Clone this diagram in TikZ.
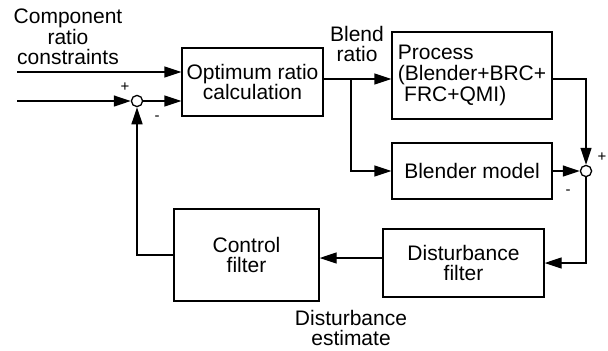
\documentclass[tikz,border=0pt]{standalone}
\usepackage{fontspec}
\setmainfont{Liberation Sans}
\usetikzlibrary{
    arrows.meta,
    positioning,
    calc
}
\tikzset{
  block/.style  = {draw, line width=0.65pt, align=center, inner sep=0pt},
  junct/.style  = {draw, circle, line width=0.65pt, minimum size=5.6pt,
                   inner sep=0pt, fill=white},
  arr/.style    = {-{Triangle[length=8.5pt,width=5.5pt]}, line width=0.65pt},
  ln/.style     = {line width=0.65pt},
  sgn/.style    = {font=\fontsize{7.5}{7.5}\selectfont, inner sep=0pt}
}

\begin{document}
\begin{tikzpicture}[x=0.5pt, y=-0.5pt, every node/.style={font=\fontsize{10.5}{10.3}\selectfont, align=center}]
\useasboundingbox (0,0) rectangle (608,350);
\node[block, minimum width=70.5pt, minimum height=34pt] (opt) at (252.5,82) {Optimum ratio\\calculation};
\node[block, minimum width=80pt, minimum height=43.5pt, align=left] (proc) at (472,75.5)
    {Process\\(Blender+BRC+\\\hspace*{0.3em}FRC+QMI)};
\node[block, minimum width=80pt, minimum height=28pt] (blend) at (472,171) {Blender model};
\node[block, minimum width=80.5pt, minimum height=34pt] (dist) at (463.5,263) {Disturbance\\filter};
\node[block, minimum width=72.5pt, minimum height=46pt] (ctrl) at (246.5,255) {Control\\filter};
\node[junct] (sum1) at (137,101) {};
\node[junct] (sum2) at (586,171) {};
\node (lcomp) at (68,37) {Component\\ratio\\constraints};
\node (lblend) at (357,44) {Blend\\ratio};
\node (lest) at (351,328) {Disturbance\\estimate};
\node[sgn] (p1) at (125,87) {+};
\node[sgn] (m1) at (157,118) {-};
\node[sgn] (p2) at (602,157) {+};
\node[sgn] (m2) at (568,192) {-};
\coordinate (in1) at (17,72);
\coordinate (in2) at (17,101);
\coordinate (br) at (351,79);
\coordinate (est) at (0,258);
\draw[arr] (in1) -- (opt.west |- in1);
\draw[arr] (in2) -- (sum1);
\draw[arr] (sum1) -- (opt.west |- sum1);
\draw[ln] (opt.east |- br) -- (br);
\draw[arr] (br) -- (proc.west |- br);
\draw[arr] (br) |- (blend);
\draw[arr] (proc.east |- br) -| (sum2);
\draw[arr] (blend) -- (sum2);
\draw[arr] (sum2) |- (dist);
\draw[arr] (dist.west |- est) -- (ctrl.east |- est);
\draw[arr] (ctrl) -| (sum1);
\end{tikzpicture}
\end{document}
